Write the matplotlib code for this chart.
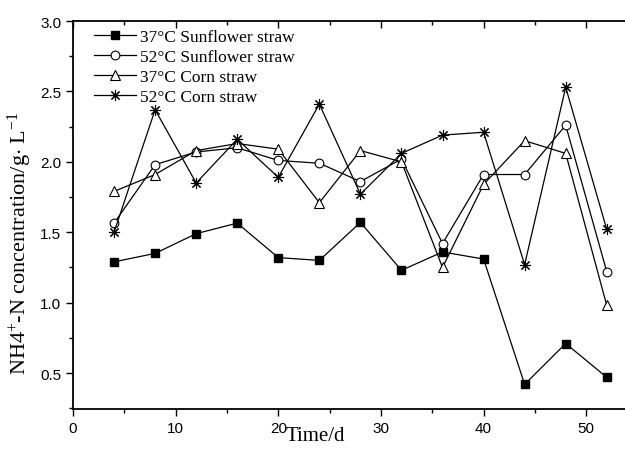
import matplotlib
matplotlib.use("Agg")
import matplotlib.pyplot as plt
from matplotlib.ticker import MultipleLocator

days = [4, 8, 12, 16, 20, 24, 28, 32, 36, 40, 44, 48, 52]
sun37 = [1.29, 1.35, 1.49, 1.565, 1.32, 1.30, 1.57, 1.23, 1.36, 1.31, 0.42, 0.71, 0.47]
sun52 = [1.565, 1.98, 2.07, 2.10, 2.01, 1.99, 1.86, 2.02, 1.42, 1.91, 1.91, 2.26, 1.22]
corn37 = [1.79, 1.91, 2.08, 2.13, 2.09, 1.71, 2.08, 2.00, 1.25, 1.84, 2.15, 2.06, 0.98]
corn52 = [1.50, 2.37, 1.85, 2.16, 1.89, 2.41, 1.77, 2.06, 2.19, 2.21, 1.27, 2.53, 1.52]
labels = ["37°C Sunflower straw", "52°C Sunflower straw", "37°C Corn straw", "52°C Corn straw"]

plt.rcParams['mathtext.fontset'] = 'custom'
plt.rcParams['mathtext.rm'] = 'Liberation Serif'
plt.rcParams['mathtext.it'] = 'Liberation Serif:italic'

fig = plt.figure(figsize=(6.25, 4.52), dpi=100)
ax = fig.add_axes([0.1168, 0.0929, 0.9, 0.8584])

lw = 0.9
ax.plot(days, sun37, color='black', lw=lw, marker='s', ms=5.5, mfc='black', mec='black', label=labels[0])
ax.plot(days, sun52, color='black', lw=lw, marker='o', ms=6.3, mfc='white', mec='black', mew=0.8, label=labels[1])
ax.plot(days, corn37, color='black', lw=lw, marker='^', ms=7, mfc='white', mec='black', mew=0.8, label=labels[2])
ax.plot(days, corn52, color='black', lw=lw, marker=(8, 2, 0), ms=8, mec='black', mew=0.8, label=labels[3])

ax.set_xlim(0, 54.8)
ax.set_ylim(0.245, 3.0)
ax.xaxis.set_major_locator(MultipleLocator(10))
ax.xaxis.set_minor_locator(MultipleLocator(5))
ax.yaxis.set_minor_locator(MultipleLocator(0.25))
ax.set_yticks([0.5, 1.0, 1.5, 2.0, 2.5, 3.0])
ax.tick_params(which='major', direction='out', length=5, width=1, labelsize=11, top=True)
ax.tick_params(which='minor', direction='out', length=3, width=1, top=True)
for lab in ax.get_xticklabels() + ax.get_yticklabels():
    lab.set_family('Liberation Sans')
for t in ax.xaxis.get_major_ticks() + ax.xaxis.get_minor_ticks():
    t.tick2line.set_marker(3)  # inward on top
for sp in ax.spines.values():
    sp.set_linewidth(1.3)

ax.set_xlabel("Time/d", family='Liberation Serif', fontsize=15)
ax.xaxis.set_label_coords(0.43, -0.045)
ax.set_ylabel("NH4$^{+}$-N concentration/g$\\cdot$ L$^{-1}$", family='Liberation Serif', fontsize=16)
ax.yaxis.set_label_coords(-0.07, 0.43)

leg = ax.legend(loc='upper left', frameon=False, prop={'family': 'Liberation Serif', 'size': 12.5},
                handlelength=2.4, handletextpad=0.25, labelspacing=0.22, borderaxespad=0.0,
                bbox_to_anchor=(0.025, 0.998))

fig.savefig("out.png", dpi=100)
